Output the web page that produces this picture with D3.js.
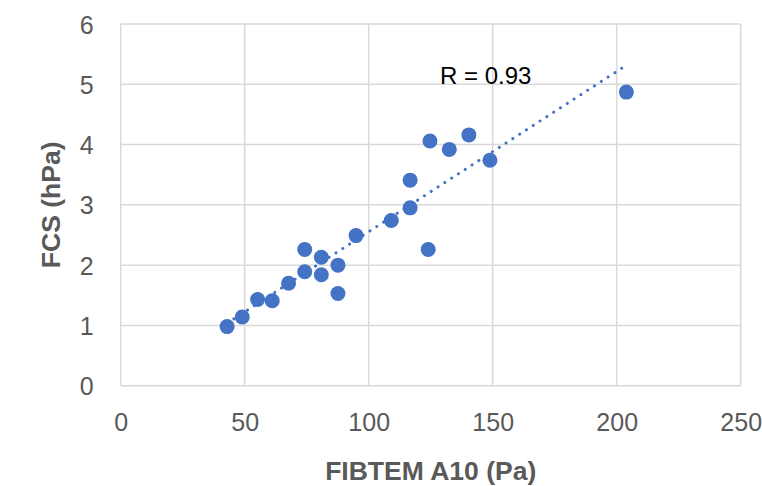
<!DOCTYPE html>
<html>
<head>
<meta charset="utf-8">
<script src="https://cdn.jsdelivr.net/npm/d3@7"></script>
<style>
  body { margin: 0; background: #fff; }
  text { font-family: "Liberation Sans", Arial, sans-serif; }
</style>
</head>
<body>
<div id="chart"></div>
<script>
// data
const fibtem = [42.9, 49.0, 55.2, 61.1, 67.7, 74.2, 74.2, 80.9, 80.9, 87.6, 87.6,
                94.9, 109.1, 116.7, 124.0, 116.7, 124.7, 132.5, 140.4, 148.9, 203.9];
const fcs    = [0.98, 1.14, 1.43, 1.41, 1.70, 2.26, 1.89, 2.13, 1.84, 2.00, 1.53,
                2.49, 2.74, 2.95, 2.26, 3.41, 4.06, 3.92, 4.16, 3.74, 4.87];
const xTicks = [0, 50, 100, 150, 200, 250];
const yTicks = [0, 1, 2, 3, 4, 5, 6];
const rLabel = "R = 0.93";

const W = 762, H = 486;
const margin = { top: 24, right: 21.3, bottom: 100.3, left: 120.7 },
      width = W - margin.left - margin.right,
      height = H - margin.top - margin.bottom;

const svg = d3.select("#chart").append("svg")
    .attr("width", W)
    .attr("height", H);

const g = svg.append("g")
    .attr("transform", `translate(${margin.left},${margin.top})`);

const x = d3.scaleLinear().domain([0, 250]).range([0, width]);
const y = d3.scaleLinear().domain([0, 6]).range([height, 0]);

// grid
g.append("g")
  .selectAll("line")
  .data(xTicks)
  .join("line")
    .attr("x1", d => x(d)).attr("x2", d => x(d))
    .attr("y1", 0).attr("y2", height)
    .attr("stroke", "#d9d9d9").attr("stroke-width", 1.5);

g.append("g")
  .selectAll("line")
  .data(yTicks)
  .join("line")
    .attr("x1", 0).attr("x2", width)
    .attr("y1", d => y(d)).attr("y2", d => y(d))
    .attr("stroke", "#d9d9d9").attr("stroke-width", 1.5);

// axes (labels only)
const xAxis = g.append("g")
    .attr("transform", `translate(0,${height})`)
    .call(d3.axisBottom(x).tickValues(xTicks).tickFormat(d3.format("d")).tickSize(0));
const yAxis = g.append("g")
    .call(d3.axisLeft(y).tickValues(yTicks).tickFormat(d3.format("d")).tickSize(0).tickPadding(27));
[xAxis, yAxis].forEach(a => {
  a.select(".domain").remove();
  a.selectAll("text")
    .attr("fill", "#595959")
    .style("font-size", "25px")
    .style("font-family", "'Liberation Sans', Arial, sans-serif");
});
xAxis.selectAll("text").attr("dy", "0.71em").attr("y", 28);
yAxis.selectAll("text").attr("dy", "0.36em");

// points
const pts = fibtem.map((v, i) => ({ x: v, y: fcs[i] }));
g.selectAll(".dot")
  .data(pts)
  .join("circle")
    .attr("class", "dot")
    .attr("cx", d => x(d.x))
    .attr("cy", d => y(d.y))
    .attr("r", 7.5)
    .attr("fill", "#4472c4");

// linear trendline (least squares over the points)
const mx = d3.mean(pts, d => d.x), my = d3.mean(pts, d => d.y);
const slope = d3.sum(pts, d => (d.x - mx) * (d.y - my)) / d3.sum(pts, d => (d.x - mx) ** 2);
const icpt = my - slope * mx;
const [x0, x1] = d3.extent(pts, d => d.x);
g.append("line")
    .attr("x1", x(x0)).attr("y1", y(icpt + slope * x0))
    .attr("x2", x(x1)).attr("y2", y(icpt + slope * x1))
    .attr("stroke", "#4472c4")
    .attr("stroke-width", 3)
    .attr("stroke-linecap", "round")
    .attr("stroke-dasharray", "0.1,8");

// R label
svg.append("text")
    .attr("x", 440)
    .attr("y", 83.5)
    .attr("fill", "#000")
    .style("font-size", "24px")
    .text(rLabel);

// axis titles
svg.append("text")
    .attr("x", margin.left + width / 2)
    .attr("y", 479.5)
    .attr("text-anchor", "middle")
    .attr("fill", "#595959")
    .style("font-size", "26.5px")
    .style("font-weight", "bold")
    .text("FIBTEM A10 (Pa)");

svg.append("text")
    .attr("transform", `translate(60,${margin.top + height / 2}) rotate(-90)`)
    .attr("text-anchor", "middle")
    .attr("fill", "#595959")
    .style("font-size", "26.5px")
    .style("font-weight", "bold")
    .text("FCS (hPa)");
</script>
</body>
</html>
